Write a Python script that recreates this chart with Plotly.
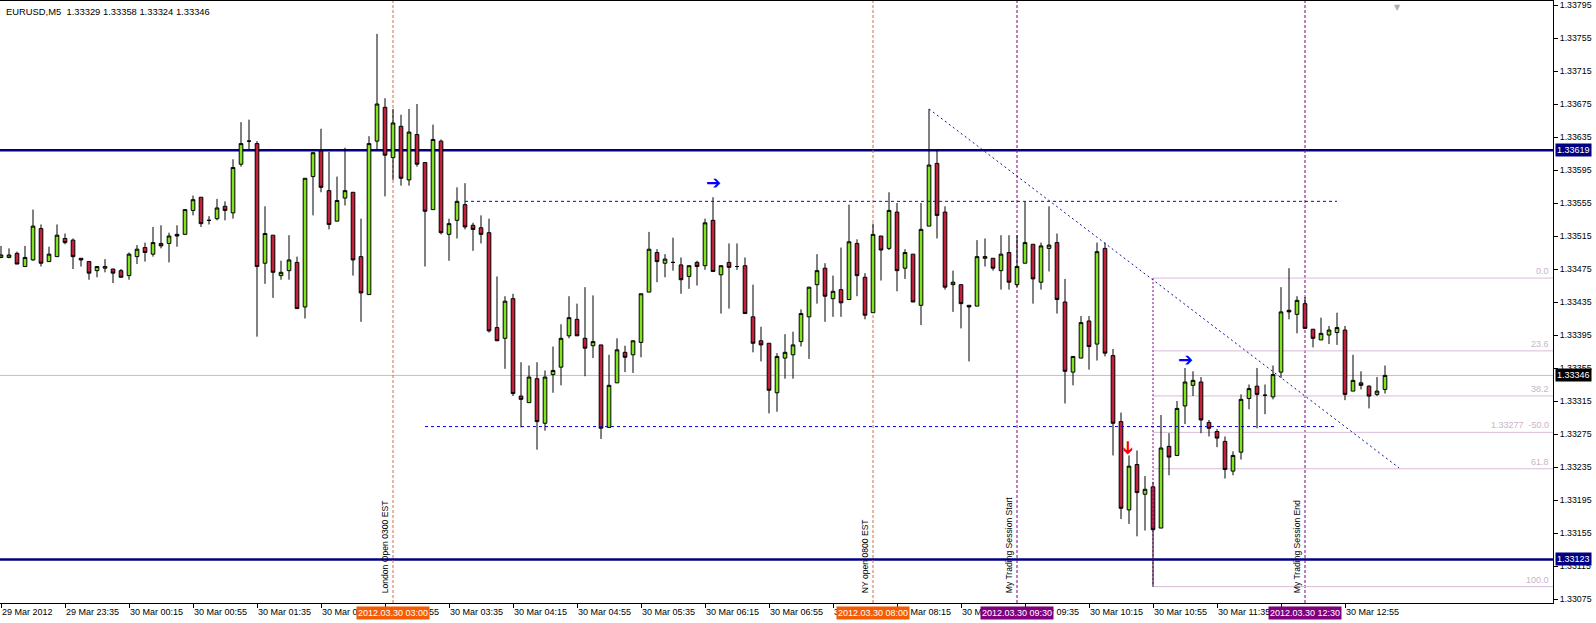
import plotly.graph_objects as go
import pandas as pd

# ---------------- data ----------------
symbol_header = "EURUSD,M5  1.33329 1.33358 1.33324 1.33346"
start_time = "2012-03-29 22:55"
bar_minutes = 5

open_ = [1.33489, 1.33489, 1.33494, 1.33478, 1.33486, 1.33524, 1.33484, 1.33490, 1.33512, 1.33510,
         1.33488, 1.33484, 1.33473, 1.33476, 1.33475, 1.33473, 1.33467, 1.33490, 1.33501, 1.33493,
         1.33506, 1.33506, 1.33517, 1.33517, 1.33546, 1.33562, 1.33534, 1.33536, 1.33551, 1.33543,
         1.33602, 1.33630, 1.33627, 1.33482, 1.33516, 1.33467, 1.33473, 1.33483, 1.33429, 1.33587,
         1.33618, 1.33570, 1.33533, 1.33561, 1.33568, 1.33490, 1.33444, 1.33630, 1.33671, 1.33610,
         1.33648, 1.33583, 1.33638, 1.33604, 1.33547, 1.33630, 1.33517, 1.33534, 1.33553, 1.33528,
         1.33525, 1.33519, 1.33404, 1.33391, 1.33439, 1.33321, 1.33313, 1.33342, 1.33288, 1.33347,
         1.33356, 1.33394, 1.33414, 1.33391, 1.33382, 1.33383, 1.33283, 1.33337, 1.33374, 1.33371,
         1.33386, 1.33447, 1.33495, 1.33482, 1.33483, 1.33480, 1.33466, 1.33483, 1.33479, 1.33534,
         1.33468, 1.33483, 1.33478, 1.33479, 1.33417, 1.33388, 1.33385, 1.33325, 1.33367, 1.33371,
         1.33387, 1.33417, 1.33456, 1.33476, 1.33439, 1.33450, 1.33438, 1.33506, 1.33465, 1.33422,
         1.33515, 1.33500, 1.33544, 1.33476, 1.33493, 1.33431, 1.33527, 1.33603, 1.33544, 1.33456,
         1.33456, 1.33431, 1.33430, 1.33488, 1.33488, 1.33473, 1.33495, 1.33456, 1.33482, 1.33505,
         1.33459, 1.33500, 1.33507, 1.33435, 1.33350, 1.33367, 1.33412, 1.33384, 1.33500, 1.33370,
         1.33290, 1.33183, 1.33238, 1.33202, 1.33211, 1.33161, 1.33260, 1.33249, 1.33309, 1.33334,
         1.33338, 1.33289, 1.33278, 1.33266, 1.33230, 1.33253, 1.33318, 1.33333, 1.33322, 1.33320,
         1.33350, 1.33425, 1.33420, 1.33433, 1.33402, 1.33389, 1.33395, 1.33398, 1.33401, 1.33327,
         1.33337, 1.33333, 1.33323, 1.33329]
high = [1.33503, 1.33500, 1.33496, 1.33503, 1.33547, 1.33529, 1.33502, 1.33529, 1.33518, 1.33512,
        1.33488, 1.33484, 1.33478, 1.33487, 1.33475, 1.33475, 1.33495, 1.33504, 1.33507, 1.33526,
        1.33528, 1.33519, 1.33528, 1.33547, 1.33564, 1.33562, 1.33539, 1.33560, 1.33557, 1.33608,
        1.33653, 1.33656, 1.33630, 1.33551, 1.33516, 1.33485, 1.33516, 1.33490, 1.33585, 1.33616,
        1.33645, 1.33617, 1.33587, 1.33622, 1.33568, 1.33536, 1.33636, 1.33760, 1.33682, 1.33669,
        1.33662, 1.33669, 1.33675, 1.33604, 1.33650, 1.33632, 1.33536, 1.33574, 1.33579, 1.33531,
        1.33540, 1.33536, 1.33466, 1.33442, 1.33445, 1.33362, 1.33358, 1.33362, 1.33352, 1.33381,
        1.33408, 1.33442, 1.33433, 1.33453, 1.33443, 1.33383, 1.33371, 1.33391, 1.33382, 1.33388,
        1.33445, 1.33520, 1.33499, 1.33493, 1.33513, 1.33489, 1.33479, 1.33485, 1.33536, 1.33562,
        1.33479, 1.33506, 1.33506, 1.33489, 1.33456, 1.33405, 1.33385, 1.33373, 1.33396, 1.33399,
        1.33426, 1.33453, 1.33493, 1.33482, 1.33467, 1.33501, 1.33553, 1.33511, 1.33470, 1.33530,
        1.33515, 1.33568, 1.33555, 1.33499, 1.33493, 1.33555, 1.33669, 1.33620, 1.33551, 1.33473,
        1.33456, 1.33431, 1.33510, 1.33512, 1.33488, 1.33516, 1.33516, 1.33516, 1.33557, 1.33505,
        1.33507, 1.33551, 1.33518, 1.33463, 1.33369, 1.33418, 1.33418, 1.33507, 1.33507, 1.33378,
        1.33301, 1.33249, 1.33255, 1.33224, 1.33217, 1.33298, 1.33276, 1.33315, 1.33355, 1.33351,
        1.33344, 1.33292, 1.33281, 1.33272, 1.33254, 1.33323, 1.33335, 1.33355, 1.33335, 1.33358,
        1.33453, 1.33476, 1.33442, 1.33441, 1.33402, 1.33416, 1.33406, 1.33422, 1.33406, 1.33371,
        1.33351, 1.33334, 1.33344, 1.33358]
low = [1.33488, 1.33488, 1.33481, 1.33478, 1.33485, 1.33478, 1.33484, 1.33490, 1.33505, 1.33475,
       1.33478, 1.33462, 1.33465, 1.33471, 1.33458, 1.33465, 1.33462, 1.33481, 1.33484, 1.33490,
       1.33500, 1.33483, 1.33502, 1.33517, 1.33540, 1.33526, 1.33529, 1.33534, 1.33534, 1.33536,
       1.33599, 1.33620, 1.33393, 1.33457, 1.33440, 1.33462, 1.33462, 1.33427, 1.33415, 1.33540,
       1.33568, 1.33523, 1.33533, 1.33552, 1.33467, 1.33411, 1.33444, 1.33619, 1.33563, 1.33583,
       1.33576, 1.33576, 1.33599, 1.33478, 1.33547, 1.33517, 1.33485, 1.33512, 1.33523, 1.33497,
       1.33506, 1.33398, 1.33388, 1.33354, 1.33321, 1.33283, 1.33313, 1.33256, 1.33279, 1.33325,
       1.33334, 1.33391, 1.33394, 1.33345, 1.33367, 1.33269, 1.33283, 1.33337, 1.33350, 1.33349,
       1.33368, 1.33447, 1.33459, 1.33465, 1.33473, 1.33445, 1.33451, 1.33455, 1.33474, 1.33472,
       1.33421, 1.33427, 1.33474, 1.33421, 1.33374, 1.33363, 1.33300, 1.33302, 1.33342, 1.33342,
       1.33381, 1.33366, 1.33433, 1.33411, 1.33417, 1.33417, 1.33438, 1.33442, 1.33414, 1.33422,
       1.33461, 1.33498, 1.33448, 1.33463, 1.33435, 1.33407, 1.33527, 1.33512, 1.33450, 1.33423,
       1.33403, 1.33363, 1.33430, 1.33478, 1.33473, 1.33450, 1.33450, 1.33453, 1.33482, 1.33433,
       1.33450, 1.33472, 1.33421, 1.33312, 1.33334, 1.33367, 1.33353, 1.33364, 1.33369, 1.33249,
       1.33172, 1.33166, 1.33151, 1.33158, 1.33090, 1.33161, 1.33225, 1.33249, 1.33287, 1.33321,
       1.33276, 1.33272, 1.33259, 1.33221, 1.33225, 1.33244, 1.33305, 1.33282, 1.33299, 1.33317,
       1.33343, 1.33414, 1.33397, 1.33403, 1.33380, 1.33389, 1.33384, 1.33383, 1.33316, 1.33327,
       1.33329, 1.33306, 1.33321, 1.33324]
close = [1.33492, 1.33492, 1.33481, 1.33489, 1.33527, 1.33482, 1.33493, 1.33516, 1.33507, 1.33490,
         1.33486, 1.33470, 1.33478, 1.33478, 1.33470, 1.33465, 1.33493, 1.33499, 1.33495, 1.33507,
         1.33503, 1.33515, 1.33515, 1.33547, 1.33559, 1.33530, 1.33534, 1.33549, 1.33546, 1.33598,
         1.33627, 1.33630, 1.33478, 1.33518, 1.33471, 1.33471, 1.33486, 1.33427, 1.33585, 1.33616,
         1.33574, 1.33529, 1.33558, 1.33570, 1.33486, 1.33446, 1.33627, 1.33675, 1.33613, 1.33652,
         1.33585, 1.33641, 1.33602, 1.33545, 1.33632, 1.33519, 1.33530, 1.33557, 1.33526, 1.33523,
         1.33517, 1.33400, 1.33388, 1.33436, 1.33324, 1.33317, 1.33344, 1.33290, 1.33344, 1.33352,
         1.33391, 1.33416, 1.33394, 1.33379, 1.33387, 1.33282, 1.33334, 1.33377, 1.33368, 1.33388,
         1.33445, 1.33499, 1.33484, 1.33487, 1.33483, 1.33462, 1.33479, 1.33478, 1.33531, 1.33472,
         1.33479, 1.33477, 1.33478, 1.33421, 1.33385, 1.33383, 1.33328, 1.33369, 1.33374, 1.33383,
         1.33421, 1.33453, 1.33473, 1.33442, 1.33448, 1.33434, 1.33508, 1.33467, 1.33419, 1.33517,
         1.33498, 1.33546, 1.33473, 1.33495, 1.33435, 1.33523, 1.33601, 1.33540, 1.33453, 1.33459,
         1.33433, 1.33429, 1.33490, 1.33490, 1.33476, 1.33493, 1.33459, 1.33478, 1.33507, 1.33463,
         1.33503, 1.33504, 1.33438, 1.33351, 1.33369, 1.33410, 1.33381, 1.33496, 1.33373, 1.33288,
         1.33185, 1.33236, 1.33204, 1.33208, 1.33159, 1.33258, 1.33247, 1.33306, 1.33338, 1.33340,
         1.33292, 1.33282, 1.33270, 1.33232, 1.33249, 1.33317, 1.33330, 1.33323, 1.33322, 1.33347,
         1.33423, 1.33423, 1.33437, 1.33403, 1.33391, 1.33397, 1.33401, 1.33404, 1.33323, 1.33340,
         1.33334, 1.33321, 1.33327, 1.33346]

# horizontal support / resistance levels
sr_levels = [1.33619, 1.33123]
# range (dashed) lines: (price, start bar, end bar)
range_lines = [(1.33557, 58, 167), (1.33284, 53, 167)]
# descending trendline: (bar, price) endpoints
trend_pts = [(116, 1.33669), (174.75, 1.33234)]
# vertical session lines
session_times = ["2012-03-30 03:00", "2012-03-30 08:00", "2012-03-30 09:30", "2012-03-30 12:30"]
session_labels = ["London Open 0300 EST", "NY open 0800 EST", "My Trading Session Start", "My Trading Session End"]
session_axis_text = ["2012.03.30 03:00", "2012.03.30 08:00", "2012.03.30 09:30", "2012.03.30 12:30"]
session_colors = ["#d0703c", "#d0703c", "#800080", "#800080"]
session_box_colors = ["#f25c05", "#f25c05", "#800080", "#800080"]
# fibonacci retracement
fib_bar = 144
fib_high = 1.33464
fib_low = 1.33090
fib_levels = [0.0, 23.6, 38.2, 50.0, 61.8, 100.0]
fib_texts = ["0.0", "23.6", "38.2", "1.33277  -50.0", "61.8", "100.0"]
# arrows: (bar, price, color, direction)
arrows = [(89, 1.33580, "#0000ff", "right"), (148, 1.33365, "#0000ff", "right"), (141, 1.33259, "#ff0000", "down")]
# axis ticks
y_tick_start, y_tick_step, y_tick_count = 1.33075, 0.0004, 19
x_tick_every_bars = 8

# ---------------- build ----------------
times = pd.date_range(start_time, periods=len(open_), freq=f"{bar_minutes}min")
t0 = times[0]


def bar_time(i):
    return (t0 + pd.Timedelta(minutes=bar_minutes * i)).strftime("%Y-%m-%d %H:%M:%S")


FONT = "Liberation Sans, Arial, sans-serif"
GREEN = "#7fe31e"
RED = "#c4203c"

fig = go.Figure()
fig.add_trace(go.Candlestick(
    x=times, open=open_, high=high, low=low, close=close,
    increasing=dict(fillcolor=GREEN, line=dict(color="black", width=1)),
    decreasing=dict(fillcolor=RED, line=dict(color="black", width=1)),
    whiskerwidth=0, hoverinfo="skip", showlegend=False,
))

shapes = []
# current price line
shapes.append(dict(type="line", xref="paper", x0=0, x1=1, yref="y", y0=close[-1], y1=close[-1],
                   line=dict(color="#c0c0c0", width=1), layer="below"))
# S/R lines
for lv in sr_levels:
    shapes.append(dict(type="line", xref="paper", x0=0, x1=1, yref="y", y0=lv, y1=lv,
                       line=dict(color="#000080", width=2.5), layer="below"))
# session vertical lines
for tm, col in zip(session_times, session_colors):
    shapes.append(dict(type="line", xref="x", x0=tm, x1=tm, yref="paper", y0=0, y1=1,
                       line=dict(color=col, width=1, dash="3px,2px"), layer="below"))
# range lines
for price, b0, b1 in range_lines:
    shapes.append(dict(type="line", xref="x", x0=bar_time(b0), x1=bar_time(b1), yref="y", y0=price, y1=price,
                       line=dict(color="#0000ff", width=1, dash="3px,3px")))
# trendline
shapes.append(dict(type="line", xref="x", x0=bar_time(trend_pts[0][0]), x1=bar_time(trend_pts[1][0]),
                   yref="y", y0=trend_pts[0][1], y1=trend_pts[1][1],
                   line=dict(color="#1010a0", width=1, dash="2px,3px")))
# fib
fib_t = bar_time(fib_bar)
shapes.append(dict(type="line", xref="x", x0=fib_t, x1=fib_t, yref="y", y0=fib_high, y1=fib_low,
                   line=dict(color="#800080", width=1, dash="2px,2px")))
annotations = []
for lv, txt in zip(fib_levels, fib_texts):
    p = fib_high - lv / 100.0 * (fib_high - fib_low)
    shapes.append(dict(type="line", xref="x", x0=fib_t, x1=bar_time(194), yref="y", y0=p, y1=p,
                       line=dict(color="#d8bcd8", width=1), layer="below"))
    annotations.append(dict(xref="paper", x=1, xanchor="right", xshift=-2, yref="y", y=p, yanchor="bottom",
                            text=txt, showarrow=False, font=dict(family=FONT, size=9, color="#c8b4c8")))

# header
annotations.append(dict(xref="paper", x=0, xanchor="left", xshift=4, yref="paper", y=1, yanchor="top", yshift=-3,
                        text=symbol_header, showarrow=False, font=dict(family=FONT, size=9.4, color="black")))

# session vertical text + axis boxes
for tm, lab, axt, bcol in zip(session_times, session_labels, session_axis_text, session_box_colors):
    annotations.append(dict(xref="x", x=tm, xanchor="right", xshift=-1, yref="paper", y=0.012, yanchor="bottom",
                            text=lab, textangle=-90, showarrow=False,
                            font=dict(family=FONT, size=8.6, color="black")))
    annotations.append(dict(xref="x", x=tm, xanchor="center", yref="paper", y=-0.016, yanchor="middle",
                            text=axt, showarrow=False, bgcolor=bcol, borderpad=1,
                            font=dict(family=FONT, size=9, color="white")))

# right axis price boxes
for lv, bcol in [(sr_levels[0], "#000080"), (sr_levels[1], "#000080"), (close[-1], "#000000")]:
    annotations.append(dict(xref="paper", x=1, xanchor="left", xshift=2, yref="y", y=lv, yanchor="middle",
                            text=f"{lv:.5f}", showarrow=False, bgcolor=bcol, borderpad=1,
                            font=dict(family=FONT, size=9, color="white")))

# arrows
for b, p, col, d in arrows:
    annotations.append(dict(xref="x", x=bar_time(b), yref="y", y=p, text="<b>➔</b>", showarrow=False,
                            textangle=(90 if d == "down" else 0),
                            font=dict(family="DejaVu Sans", size=18, color=col)))

# chart shift marker
annotations.append(dict(xref="x", x=bar_time(174.5), yref="paper", y=1, yanchor="top", text="▼",
                        showarrow=False, font=dict(family="DejaVu Sans", size=8, color="#b0b0b0")))

# ticks
y_ticks = [round(y_tick_start + y_tick_step * k, 5) for k in range(y_tick_count)]
x_tickvals = list(times[::x_tick_every_bars])
x_fmts = [("%d %b %Y" if k == 0 else "%d %b %H:%M") for k in range(len(x_tickvals))]
x_ticktext = [tv.strftime(fmt) for tv, fmt in zip(x_tickvals, x_fmts)]

fig.update_layout(
    width=1596, height=623,
    margin=dict(l=0, r=43, t=1, b=20),
    paper_bgcolor="white", plot_bgcolor="white",
    showlegend=False, boxgap=0.35,
    shapes=shapes, annotations=annotations,
    xaxis=dict(type="date", range=[bar_time(-0.125), bar_time(194)], rangeslider=dict(visible=False),
               showgrid=False, zeroline=False, showline=True, linecolor="black", linewidth=1, mirror=True,
               ticks="outside", ticklen=4, tickcolor="black",
               tickvals=x_tickvals, ticktext=x_ticktext, ticklabelposition="outside right",
               tickfont=dict(family=FONT, size=9, color="black")),
    yaxis=dict(side="right", range=[1.3307015, 1.3379985], showgrid=False, zeroline=False,
               showline=True, linecolor="black", linewidth=1, mirror=True,
               ticks="outside", ticklen=4, tickcolor="black",
               tickvals=y_ticks, ticktext=[f"{v:.5f}" for v in y_ticks],
               tickfont=dict(family=FONT, size=8.8, color="black")),
    hovermode=False,
)

fig.write_html("out.html", config={"displayModeBar": False},
               post_script="document.body.style.margin='0';document.body.style.overflow='hidden';")
